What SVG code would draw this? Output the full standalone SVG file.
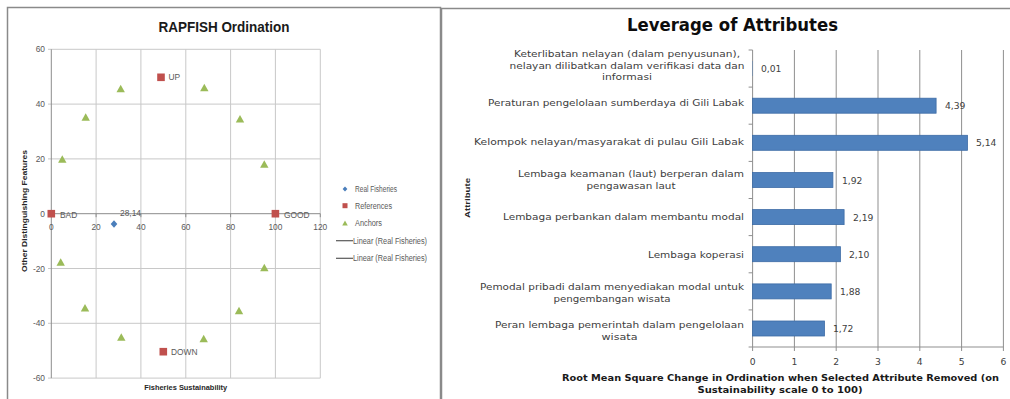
<svg xmlns="http://www.w3.org/2000/svg" width="1010" height="399" viewBox="0 0 1010 399">
<style>
.frame{stroke:#8a8a8a;stroke-width:1.5;fill:none}
.grid1{stroke:#c8c8c8;stroke-width:1}
.axis1{stroke:#8c8c8c;stroke-width:1}
.grid2{stroke:#8f8f8f;stroke-width:1}
.t1{font-family:"Liberation Sans",Arial,sans-serif;font-size:8.4px;fill:#595959}
.t1b{font-family:"Liberation Sans",Arial,sans-serif;font-size:8px;font-weight:bold;fill:#262626}
.title1{font-family:"Liberation Sans",Arial,sans-serif;font-size:15px;font-weight:bold;fill:#1a1a1a}
.t2{font-family:"DejaVu Sans",Verdana,sans-serif;font-size:9.2px;fill:#404040}
.t2b{font-family:"DejaVu Sans",Verdana,sans-serif;font-size:8.6px;font-weight:bold;fill:#1a1a1a}
.title2{font-family:"DejaVu Sans",Verdana,sans-serif;font-size:17px;font-weight:bold;fill:#0d0d0d}
.bar{fill:#4F81BD;stroke:#3d6ca6;stroke-width:0.8}
.anchor{fill:#9BBB59}
.ref{fill:#C0504D}
.real{fill:#4A7EBB}
</style>
<defs>
<path id="tri" d="M0,-4 L4.2,3.5 L-4.2,3.5 Z" class="anchor"/>
<rect id="sq" x="-3.8" y="-3.8" width="7.6" height="7.6" class="ref"/>
</defs>

<!-- panel frames -->
<g id="frames">
<path class="frame" d="M7.5,399 V7.5 H440.5 V399"/>
<path class="frame" d="M441.5,399 V8.5 H1010"/>
</g>

<!-- LEFT: RAPFISH Ordination -->
<g id="ordination-chart">
<text class="title1" x="224" y="32" text-anchor="middle" textLength="131" lengthAdjust="spacingAndGlyphs">RAPFISH Ordination</text>
<g id="grid-left">
<line class="grid1" x1="96.1" y1="49.3" x2="96.1" y2="378.1"/>
<line class="grid1" x1="140.9" y1="49.3" x2="140.9" y2="378.1"/>
<line class="grid1" x1="185.8" y1="49.3" x2="185.8" y2="378.1"/>
<line class="grid1" x1="230.6" y1="49.3" x2="230.6" y2="378.1"/>
<line class="grid1" x1="275.4" y1="49.3" x2="275.4" y2="378.1"/>
<line class="grid1" x1="320.3" y1="49.3" x2="320.3" y2="378.1"/>
<line class="grid1" x1="48" y1="49.3" x2="320.3" y2="49.3"/>
<line class="grid1" x1="48" y1="104.1" x2="320.3" y2="104.1"/>
<line class="grid1" x1="48" y1="158.9" x2="320.3" y2="158.9"/>
<line class="grid1" x1="48" y1="268.5" x2="320.3" y2="268.5"/>
<line class="grid1" x1="48" y1="323.3" x2="320.3" y2="323.3"/>
<line class="grid1" x1="48" y1="378.1" x2="320.3" y2="378.1"/>
<line class="axis1" x1="51.3" y1="49.3" x2="51.3" y2="378.1"/>
<line class="axis1" x1="48" y1="213.7" x2="320.3" y2="213.7"/>
<path class="axis1" d="M51.3,213.7v3.5M96.1,213.7v3.5M140.9,213.7v3.5M185.8,213.7v3.5M230.6,213.7v3.5M275.4,213.7v3.5M320.3,213.7v3.5"/>
</g>
<g id="ticks-left">
<text class="t1" x="45" y="52.3" text-anchor="end">60</text>
<text class="t1" x="45" y="107.1" text-anchor="end">40</text>
<text class="t1" x="45" y="161.9" text-anchor="end">20</text>
<text class="t1" x="45" y="216.7" text-anchor="end">0</text>
<text class="t1" x="45" y="271.5" text-anchor="end">-20</text>
<text class="t1" x="45" y="326.3" text-anchor="end">-40</text>
<text class="t1" x="45" y="381.1" text-anchor="end">-60</text>
<text class="t1" x="51.3" y="230" text-anchor="middle">0</text>
<text class="t1" x="96.1" y="230" text-anchor="middle">20</text>
<text class="t1" x="140.9" y="230" text-anchor="middle">40</text>
<text class="t1" x="185.8" y="230" text-anchor="middle">60</text>
<text class="t1" x="230.6" y="230" text-anchor="middle">80</text>
<text class="t1" x="275.4" y="230" text-anchor="middle">100</text>
<text class="t1" x="320.3" y="230" text-anchor="middle">120</text>
</g>
<text class="t1b" x="185.7" y="390" text-anchor="middle" textLength="83" lengthAdjust="spacingAndGlyphs">Fisheries Sustainability</text>
<text class="t1b" transform="translate(27,211) rotate(-90)" text-anchor="middle" textLength="122" lengthAdjust="spacingAndGlyphs">Other Distinguishing Features</text>

<g id="anchors">
<use href="#tri" x="62.3" y="159.3"/>
<use href="#tri" x="85.7" y="117.3"/>
<use href="#tri" x="120.7" y="88.7"/>
<use href="#tri" x="204.3" y="87.7"/>
<use href="#tri" x="240" y="119"/>
<use href="#tri" x="264.3" y="164.3"/>
<use href="#tri" x="60.7" y="262.3"/>
<use href="#tri" x="85" y="308"/>
<use href="#tri" x="121.3" y="337.3"/>
<use href="#tri" x="203.7" y="338.7"/>
<use href="#tri" x="239" y="310.7"/>
<use href="#tri" x="264.3" y="267.7"/>
</g>
<g id="references">
<use href="#sq" x="51.3" y="213.7"/>
<use href="#sq" x="275.4" y="213.7"/>
<use href="#sq" x="161" y="77.3"/>
<use href="#sq" x="163.3" y="351.7"/>
<text class="t1" x="60" y="217.5">BAD</text>
<text class="t1" x="284" y="217.5">GOOD</text>
<text class="t1" x="168.5" y="80.3">UP</text>
<text class="t1" x="171" y="354.7">DOWN</text>
</g>
<g id="real-fisheries">
<path class="real" d="M114,220.3 L117.3,224 L114,227.7 L110.7,224 Z"/>
<text class="t1" x="120" y="216">28,14</text>
</g>
<g id="legend-left">
<path class="real" d="M345,186.6 L347.4,189 L345,191.4 L342.6,189 Z"/>
<text class="t1" x="355" y="191.8" textLength="42" lengthAdjust="spacingAndGlyphs">Real Fisheries</text>
<rect class="ref" x="342.5" y="203.2" width="5" height="5"/>
<text class="t1" x="355" y="208.5" textLength="37" lengthAdjust="spacingAndGlyphs">References</text>
<path class="anchor" d="M345,220.5 L347.8,225.5 L342.2,225.5 Z"/>
<text class="t1" x="355" y="226.1" textLength="27" lengthAdjust="spacingAndGlyphs">Anchors</text>
<line x1="336" y1="240.7" x2="353" y2="240.7" stroke="#595959" stroke-width="1.2"/>
<text class="t1" x="353" y="243.5" textLength="74" lengthAdjust="spacingAndGlyphs">Linear (Real Fisheries)</text>
<line x1="336" y1="258.3" x2="353" y2="258.3" stroke="#595959" stroke-width="1.2"/>
<text class="t1" x="353" y="261.1" textLength="74" lengthAdjust="spacingAndGlyphs">Linear (Real Fisheries)</text>
</g>
</g>

<!-- RIGHT: Leverage of Attributes -->
<g id="leverage-chart">
<text class="title2" x="732.5" y="31" text-anchor="middle" textLength="211" lengthAdjust="spacingAndGlyphs">Leverage of Attributes</text>
<g id="grid-right">
<line class="grid2" x1="794.4" y1="50" x2="794.4" y2="347"/>
<line class="grid2" x1="836.2" y1="50" x2="836.2" y2="347"/>
<line class="grid2" x1="878" y1="50" x2="878" y2="347"/>
<line class="grid2" x1="919.8" y1="50" x2="919.8" y2="347"/>
<line class="grid2" x1="961.6" y1="50" x2="961.6" y2="347"/>
<line class="grid2" x1="1003.4" y1="50" x2="1003.4" y2="347"/>
<line class="grid2" x1="752.6" y1="50" x2="752.6" y2="347"/>
<line class="grid2" x1="752.6" y1="347" x2="1003.4" y2="347"/>
<path class="grid2" d="M748.6,50h4M748.6,87.1h4M748.6,124.2h4M748.6,161.4h4M748.6,198.5h4M748.6,235.6h4M748.6,272.8h4M748.6,309.9h4M748.6,347h4"/>
<path class="grid2" d="M752.6,347v4M794.4,347v4M836.2,347v4M878,347v4M919.8,347v4M961.6,347v4M1003.4,347v4"/>
</g>
<g id="bars">
<rect x="752.6" y="61" width="0.4" height="15" fill="#4F81BD"/>
<rect class="bar" x="752.6" y="98.2" width="183.5" height="15"/>
<rect class="bar" x="752.6" y="135.3" width="214.9" height="15"/>
<rect class="bar" x="752.6" y="172.5" width="80.3" height="15"/>
<rect class="bar" x="752.6" y="209.6" width="91.5" height="15"/>
<rect class="bar" x="752.6" y="246.7" width="87.8" height="15"/>
<rect class="bar" x="752.6" y="283.9" width="78.6" height="15"/>
<rect class="bar" x="752.6" y="321" width="71.9" height="15"/>
</g>
<g id="values">
<text class="t2" x="761" y="72">0,01</text>
<text class="t2" x="945" y="109">4,39</text>
<text class="t2" x="976" y="146">5,14</text>
<text class="t2" x="842" y="183.5">1,92</text>
<text class="t2" x="853" y="220.5">2,19</text>
<text class="t2" x="849" y="258">2,10</text>
<text class="t2" x="840" y="295">1,88</text>
<text class="t2" x="833" y="332">1,72</text>
</g>
<g id="labels">
<text class="t2" x="627" y="57" text-anchor="middle" textLength="226" lengthAdjust="spacingAndGlyphs">Keterlibatan nelayan (dalam penyusunan),</text>
<text class="t2" x="627" y="68.5" text-anchor="middle" textLength="235" lengthAdjust="spacingAndGlyphs">nelayan dilibatkan dalam verifikasi data dan</text>
<text class="t2" x="627" y="80" text-anchor="middle" textLength="50" lengthAdjust="spacingAndGlyphs">informasi</text>
<text class="t2" x="744" y="106" text-anchor="end" textLength="256" lengthAdjust="spacingAndGlyphs">Peraturan pengelolaan sumberdaya di Gili Labak</text>
<text class="t2" x="744" y="145" text-anchor="end" textLength="270" lengthAdjust="spacingAndGlyphs">Kelompok nelayan/masyarakat di pulau Gili Labak</text>
<text class="t2" x="631" y="177" text-anchor="middle" textLength="226" lengthAdjust="spacingAndGlyphs">Lembaga keamanan (laut) berperan dalam</text>
<text class="t2" x="631" y="188.5" text-anchor="middle" textLength="89" lengthAdjust="spacingAndGlyphs">pengawasan laut</text>
<text class="t2" x="744" y="220" text-anchor="end" textLength="241" lengthAdjust="spacingAndGlyphs">Lembaga perbankan dalam membantu modal</text>
<text class="t2" x="744" y="258" text-anchor="end" textLength="96" lengthAdjust="spacingAndGlyphs">Lembaga koperasi</text>
<text class="t2" x="612" y="290" text-anchor="middle" textLength="264" lengthAdjust="spacingAndGlyphs">Pemodal pribadi dalam menyediakan modal untuk</text>
<text class="t2" x="612" y="301.5" text-anchor="middle" textLength="117" lengthAdjust="spacingAndGlyphs">pengembangan wisata</text>
<text class="t2" x="619.5" y="328" text-anchor="middle" textLength="249" lengthAdjust="spacingAndGlyphs">Peran lembaga pemerintah dalam pengelolaan</text>
<text class="t2" x="619.5" y="339.5" text-anchor="middle" textLength="36" lengthAdjust="spacingAndGlyphs">wisata</text>
</g>
<g id="xticks-right">
<text class="t2" x="752.6" y="365" text-anchor="middle">0</text>
<text class="t2" x="794.4" y="365" text-anchor="middle">1</text>
<text class="t2" x="836.2" y="365" text-anchor="middle">2</text>
<text class="t2" x="878" y="365" text-anchor="middle">3</text>
<text class="t2" x="919.8" y="365" text-anchor="middle">4</text>
<text class="t2" x="961.6" y="365" text-anchor="middle">5</text>
<text class="t2" x="1003.4" y="365" text-anchor="middle">6</text>
</g>
<text class="t2b" x="780.5" y="381" text-anchor="middle" textLength="437" lengthAdjust="spacingAndGlyphs">Root Mean Square Change in Ordination when Selected Attribute Removed (on</text>
<text class="t2b" x="780" y="393" text-anchor="middle" textLength="165" lengthAdjust="spacingAndGlyphs">Sustainability  scale 0 to 100)</text>
<text class="t1b" transform="translate(470,198) rotate(-90)" text-anchor="middle" font-size="8.5px" textLength="40" lengthAdjust="spacingAndGlyphs">Attribute</text>
</g>
</svg>
